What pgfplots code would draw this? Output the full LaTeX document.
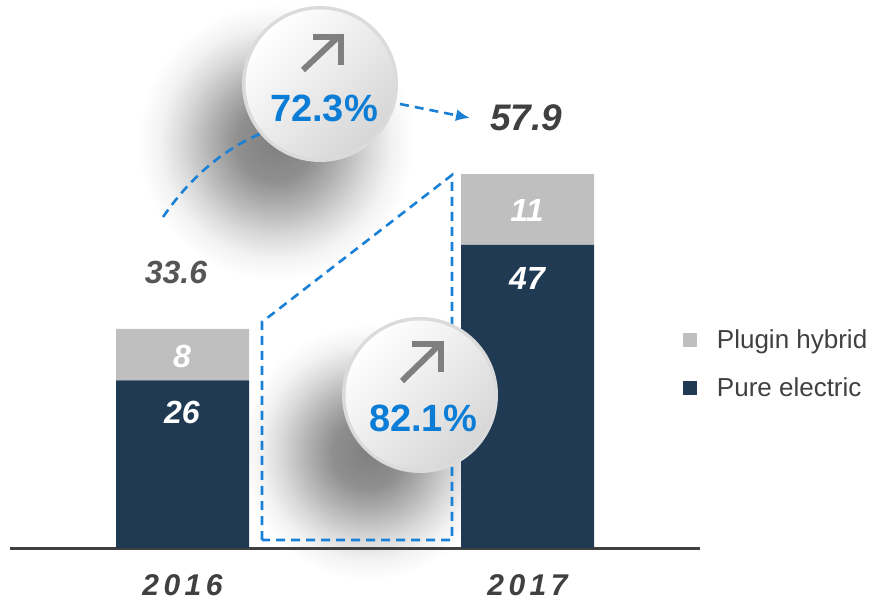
\documentclass[border=0pt]{standalone}
\usepackage{pgfplots}
\pgfplotsset{compat=1.18}
\usepackage{fontspec}
\setmainfont{Liberation Sans}
\usetikzlibrary{arrows.meta}
\definecolor{navy}{HTML}{1F3A52}
\definecolor{lgray}{HTML}{BFBFBF}
\definecolor{txt}{HTML}{404040}
\definecolor{txtb}{HTML}{555555}
\definecolor{blu}{HTML}{0B7DD6}
\definecolor{dblu}{HTML}{1A80D6}
\definecolor{arr}{HTML}{7F7F7F}
\pgfdeclareradialshading{blob}{\pgfpoint{0bp}{0bp}}{color(0bp)=(black!50); color(7bp)=(black!44); color(12bp)=(black!30); color(17bp)=(black!15); color(21bp)=(black!5); color(25bp)=(white); color(50bp)=(white)}
\pgfdeclarelayer{bg}
\pgfsetlayers{bg,main}
\begin{document}
\begin{tikzpicture}[x=1pt,y=1pt]
\begin{axis}[
  scale only axis,
  width=690pt, height=548pt,
  xmin=-0.5, xmax=1.5, ymin=0, ymax=85,
  ybar stacked, bar width=133pt,
  axis x line=bottom, axis y line=none,
  x axis line style={-, line width=3pt, draw=txt},
  xtick={0,1}, xticklabels={2016,2017},
  major tick length=0pt,
  xticklabel style={anchor=center, yshift=-37pt, text=txt,
    font=\fontsize{30}{30}\bfseries\itshape\addfontfeature{LetterSpace=15}\selectfont},
  ytick=\empty,
  clip=false,
  reverse legend,
  legend cell align=left,
  legend style={at={(0.975,0.336)}, anchor=west, draw=none, fill=none,
    font=\fontsize{26}{26}\selectfont, text=txt, row sep=23pt, inner sep=0pt,
    /tikz/every odd column/.append style={column sep=18pt}},
  legend image code/.code={\fill[#1] (0pt,-7pt) rectangle (14pt,7pt);},
]
\addplot[fill=navy, draw=none] coordinates {(0,26) (1,47)};
\addlegendentry{Pure electric}
\addplot[fill=lgray, draw=none] coordinates {(0,8) (1,11)};
\addlegendentry{Plugin hybrid}
\coordinate (SW) at (rel axis cs:0,0);
\end{axis}
\pgfresetboundingbox
% everything else in reference pixel coordinates (y down)
\begin{scope}[shift={(SW)}, shift={(-10,548)}, yscale=-1]
\path[use as bounding box] (0,0) rectangle (872,602);
\begin{pgfonlayer}{bg}
\shade[shading=blob] (276,142) circle (138);
\shade[shading=blob] (368,452) circle (128);
\end{pgfonlayer}
\tikzset{lab/.style={font=\fontsize{32}{32}\bfseries\itshape\selectfont}}
\node[lab, text=white] at (182,356) {8};
\node[lab, text=white] at (182,412) {26};
\node[lab, text=white] at (527,210) {11};
\node[lab, text=white] at (527,278) {47};
\node[lab, text=txtb] at (176,272) {33.6};
\node[font=\fontsize{37}{37}\bfseries\itshape\selectfont, text=txt] at (526,118) {57.9};
\draw[dblu, line width=2.6pt, dash pattern=on 9pt off 6pt] (163,217) .. controls (190,178) and (222,150) .. (262,133);
\draw[dblu, line width=2.6pt, dash pattern=on 9pt off 6pt, -{Latex[length=14pt,width=12pt]}] (400,104) -- (470,118);
\draw[dblu, line width=2.6pt, dash pattern=on 9pt off 6pt] (262,540) -- (262,322) -- (452,175) -- (452,540) -- cycle;
\end{scope}
\begin{scope}[shift={(SW)}, shift={(-10,-54)}]
% circles (y up, origin at bottom-left of the picture)
\fill[black!14] (320,518) circle (78);
\shade[top color=white, bottom color=black!16, shading angle=45] (320,518) circle (74.5);
\draw[arr, line width=6pt] (303,532) -- (338,565);
\draw[arr, line width=6pt, miter limit=10] (313,565) -- (341,565) -- (341,537);
\node[font=\fontsize{38}{38}\bfseries\selectfont, text=blu] at (324,494) {72.3\%};
\fill[black!14] (420,207) circle (78);
\shade[top color=white, bottom color=black!16, shading angle=45] (420,207) circle (74.5);
\draw[arr, line width=6pt] (402,221) -- (438,256);
\draw[arr, line width=6pt, miter limit=10] (412,258) -- (441,258) -- (441,230);
\node[font=\fontsize{38}{38}\bfseries\selectfont, text=blu] at (423,184) {82.1\%};
\end{scope}
\end{tikzpicture}
\end{document}
